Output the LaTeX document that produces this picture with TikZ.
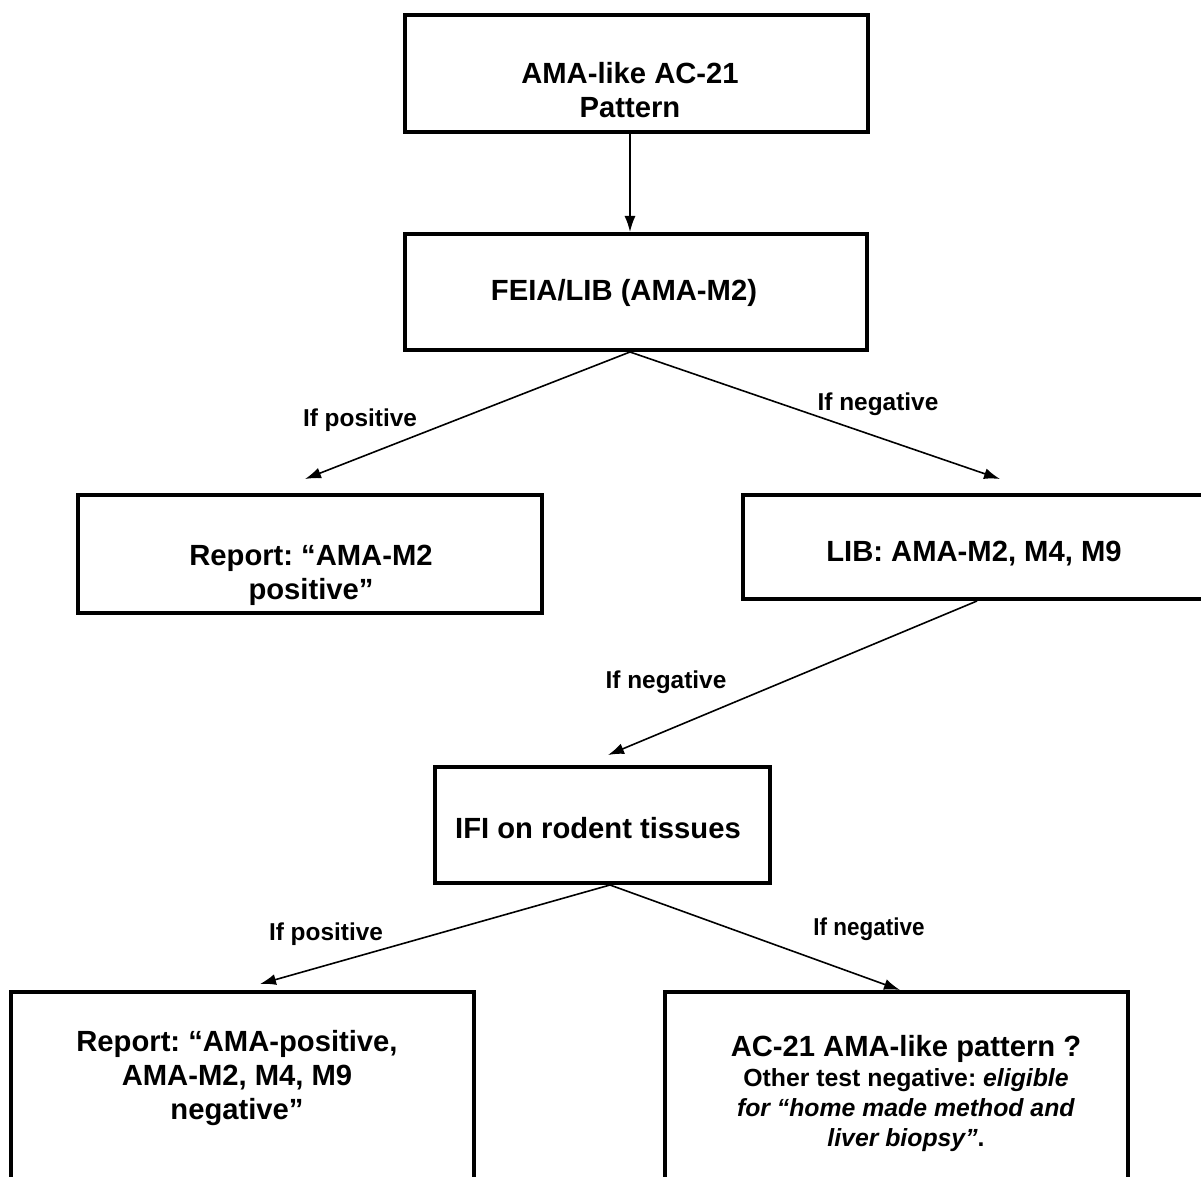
\documentclass[tikz,border=0pt]{standalone}
\usepackage{fontspec}
\setmainfont{Liberation Sans}
\usetikzlibrary{arrows.meta,calc}
\frenchspacing
\tikzset{
  boxshape/.style={draw=black, line width=2pt, fill=none},
  big/.style={font=\frenchspacing\fontsize{14.6}{17}\selectfont\bfseries, align=center, inner sep=0pt},
  lbl/.style={font=\fontsize{12.2}{14}\selectfont\bfseries, inner sep=0pt},
  conn/.style={line width=0.8pt, -{Latex[length=8pt,width=5.5pt]}}
}
\begin{document}
\begin{tikzpicture}[x=0.5pt,y=-0.5pt]
\useasboundingbox (0,0) rectangle (1201,1177);
\clip (0,0) rectangle (1201,1177);
% boxes
\node[boxshape, anchor=north west, minimum width=231.5pt, minimum height=58.5pt] (b1) at (403,13) {};
\node[boxshape, anchor=north west, minimum width=231pt, minimum height=58pt] (b2) at (403,232) {};
\node[boxshape, anchor=north west, minimum width=232pt, minimum height=59pt] (b3) at (76,493) {};
\node[boxshape, anchor=north west, minimum width=234pt, minimum height=52pt] (b4) at (741,493) {};
\node[boxshape, anchor=north west, minimum width=167.5pt, minimum height=58pt] (b5) at (433,765) {};
\node[boxshape, anchor=north west, minimum width=231.5pt, minimum height=110pt] (b6) at (9,990) {};
\node[boxshape, anchor=north west, minimum width=231.5pt, minimum height=110pt] (b7) at (663,990) {};
% texts
\node[big] (t1) at (630,90) {AMA-like AC-21\\Pattern};
\node[big] (t2) at (624,293) {FEIA/LIB (AMA-M2)};
\node[big] (t3) at (311,575) {Report: “AMA-M2\\positive”};
\node[big] (t4) at (974,554) {LIB: AMA-M2, M4, M9};
\node[big] (t5) at (598,828) {IFI on rodent tissues};
\node[big] (t6) at (237,1078) {Report: “AMA-positive,\\AMA-M2, M4, M9\\negative”};
\node[big, anchor=north] (t7) at (906,1035) {AC-21 AMA-like pattern ?\\[-2pt]
  {\fontsize{12.4}{14.6}\selectfont Other test negative: \textit{eligible}}\\[-2pt]
  {\fontsize{12.4}{14.6}\selectfont \textit{for “home made method and}}\\[-2pt]
  {\fontsize{12.4}{14.6}\selectfont \textit{liver biopsy”}.}};
% labels
\node[lbl] (l1) at (360,420) {If positive};
\node[lbl] (l2) at (878,404) {If negative};
\node[lbl] (l3) at (666,682) {If negative};
\node[lbl] (l4) at (326,934) {If positive};
\node[lbl, xscale=0.92] (l5) at (869,929) {If negative};
% connectors
\draw[conn] ($(b1.south west)+(227,0)$) -- ($(b2.north west)+(227,0)$);
\draw[conn] ($(b2.south west)+(227,0)$) -- ($(b3.north west)+(229,-14)$);
\draw[conn] ($(b2.south west)+(227,0)$) -- ($(b4.north west)+(259,-14)$);
\draw[conn] ($(b4.south west)+(236,0)$) -- ($(b5.north west)+(175,-10)$);
\draw[conn] ($(b5.south west)+(177,0)$) -- ($(b6.north west)+(251,-6)$);
\draw[conn] ($(b5.south west)+(177,0)$) -- ($(b7.north west)+(237,0)$);
\end{tikzpicture}
\end{document}
